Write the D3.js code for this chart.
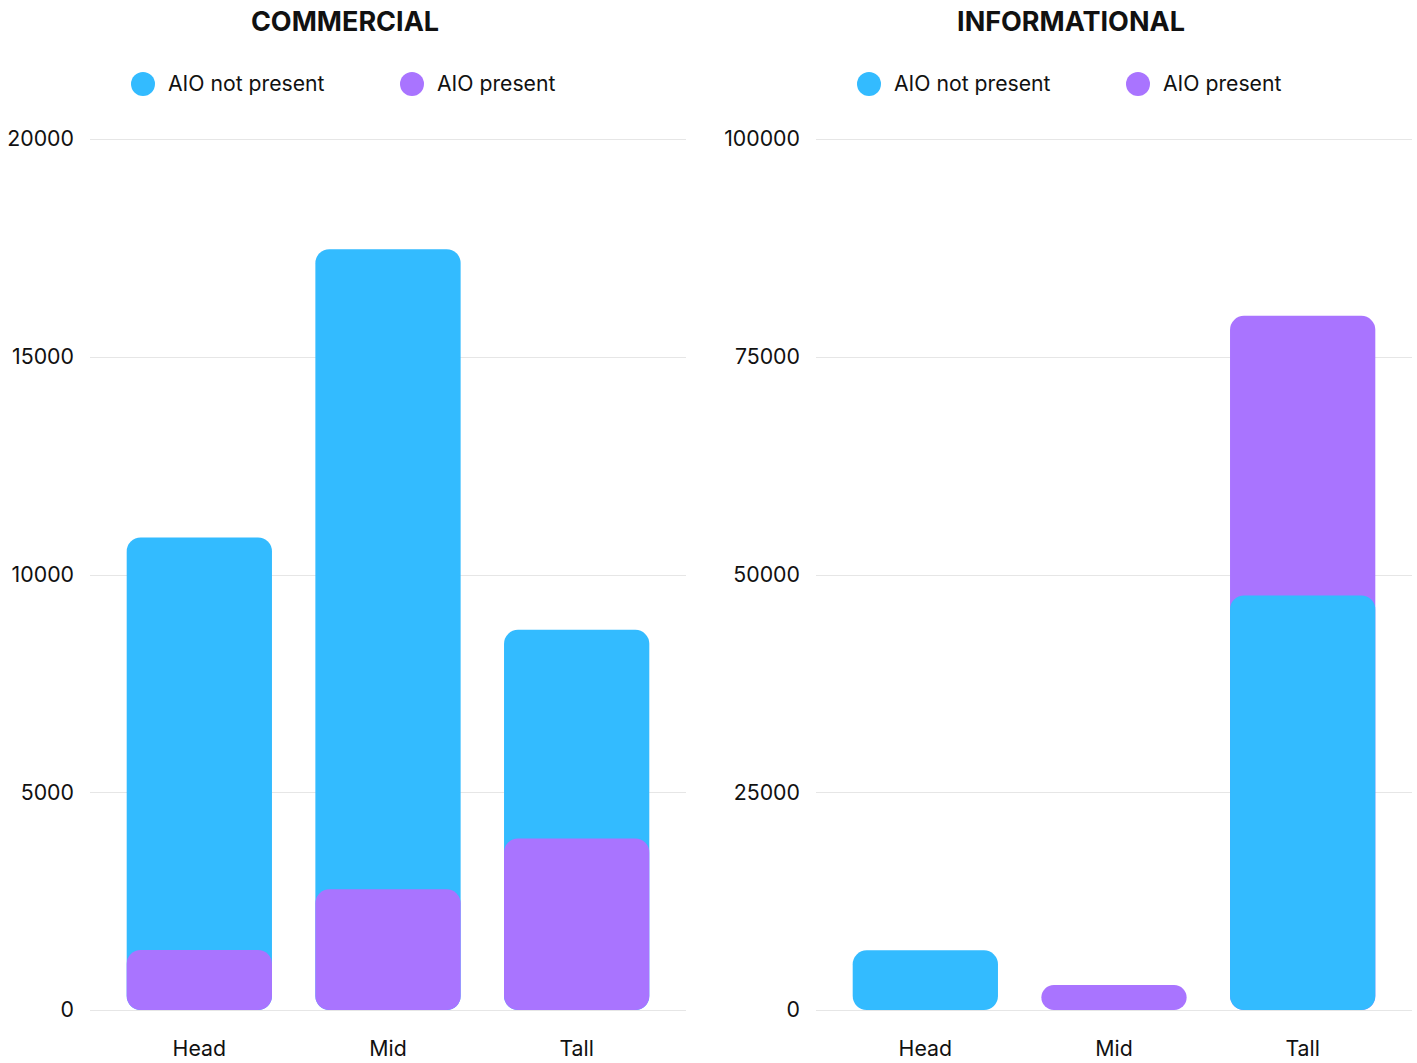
<!DOCTYPE html>
<html lang="en">
<head>
<meta charset="utf-8">
<title>AIO presence by keyword length</title>
<script src="https://d3js.org/d3.v7.min.js"></script>
<style>
  body { margin: 0; background: #fff; }
  svg text { font-family: Inter, "Noto Sans", sans-serif; fill: #111; }
  .grid line { stroke: #e6e6e6; stroke-width: 1; }
  .tick-label { font-size: 21.3px; }
  .title { font-size: 27px; font-weight: 700; }
  .legend-text { font-size: 21.2px; }
</style>
</head>
<body>
<div id="chart"></div>
<script>
// categories and series values
const categories = ["Head", "Mid", "Tall"];
const seriesNames = ["AIO not present", "AIO present"];
const seriesColors = ["#33bbff", "#a974ff"];

const commercialNotPresent = [10850, 17470, 8730];
const commercialPresent = [1380, 2770, 3940];
const commercialTicks = [0, 5000, 10000, 15000, 20000];

const informationalNotPresent = [6850, 0, 47600];
const informationalPresent = [0, 2870, 79700];
const informationalTicks = [0, 25000, 50000, 75000, 100000];

const W = 1417, H = 1063;
const PANEL_OFFSET = 726;
const BAR_RADIUS = 14;

const svg = d3.select("#chart").append("svg")
    .attr("width", W)
    .attr("height", H);

function drawPanel(ox, title, notPresent, present, ticks) {
    const g = svg.append("g").attr("transform", "translate(" + ox + ",0)");

    const gridLeft = 90, gridRight = 686;

    const y = d3.scaleLinear()
        .domain([0, ticks[ticks.length - 1]])
        .range([1010, 139]);

    const x = d3.scaleBand()
        .domain(categories)
        .range([105, 671])
        .paddingInner(0.23)
        .paddingOuter(0.115);

    // title
    g.append("text")
        .attr("class", "title")
        .attr("x", 345)
        .attr("y", 22)
        .attr("dy", "0.35em")
        .attr("text-anchor", "middle")
        .text(title);

    // legend
    const legendX = [143, 412];
    const lg = g.append("g").selectAll("g")
        .data(seriesNames)
        .join("g")
        .attr("transform", (d, i) => "translate(" + legendX[i] + ",84)");
    lg.append("circle")
        .attr("r", 12)
        .attr("fill", (d, i) => seriesColors[i]);
    lg.append("text")
        .attr("class", "legend-text")
        .attr("x", 25)
        .attr("dy", "0.35em")
        .text(d => d);

    // grid lines + y labels
    const grid = g.append("g").attr("class", "grid");
    grid.selectAll("line")
        .data(ticks)
        .join("line")
        .attr("x1", gridLeft)
        .attr("x2", gridRight)
        .attr("y1", d => Math.round(y(d)) + 0.5)
        .attr("y2", d => Math.round(y(d)) + 0.5);
    g.append("g").selectAll("text")
        .data(ticks)
        .join("text")
        .attr("class", "tick-label")
        .attr("x", 74)
        .attr("y", d => y(d))
        .attr("dy", "0.35em")
        .attr("text-anchor", "end")
        .text(d3.format("d"));

    // bars: overlapping, larger one behind
    const rows = [];
    categories.forEach((c, i) => {
        const vals = [
            { cat: c, value: notPresent[i], color: seriesColors[0] },
            { cat: c, value: present[i], color: seriesColors[1] }
        ].filter(d => d.value > 0)
         .sort((a, b) => b.value - a.value);
        vals.forEach(v => rows.push(v));
    });

    g.append("g").selectAll("rect")
        .data(rows)
        .join("rect")
        .attr("x", d => x(d.cat))
        .attr("width", x.bandwidth())
        .attr("y", d => y(d.value))
        .attr("height", d => y(0) - y(d.value))
        .attr("rx", d => Math.min(BAR_RADIUS, (y(0) - y(d.value)) / 2))
        .attr("fill", d => d.color);

    // x labels
    g.append("g").selectAll("text")
        .data(categories)
        .join("text")
        .attr("class", "tick-label")
        .attr("x", d => x(d) + x.bandwidth() / 2)
        .attr("y", 1049)
        .attr("dy", "0.35em")
        .attr("text-anchor", "middle")
        .text(d => d);
}

drawPanel(0, "COMMERCIAL", commercialNotPresent, commercialPresent, commercialTicks);
drawPanel(PANEL_OFFSET, "INFORMATIONAL", informationalNotPresent, informationalPresent, informationalTicks);
</script>
</body>
</html>
